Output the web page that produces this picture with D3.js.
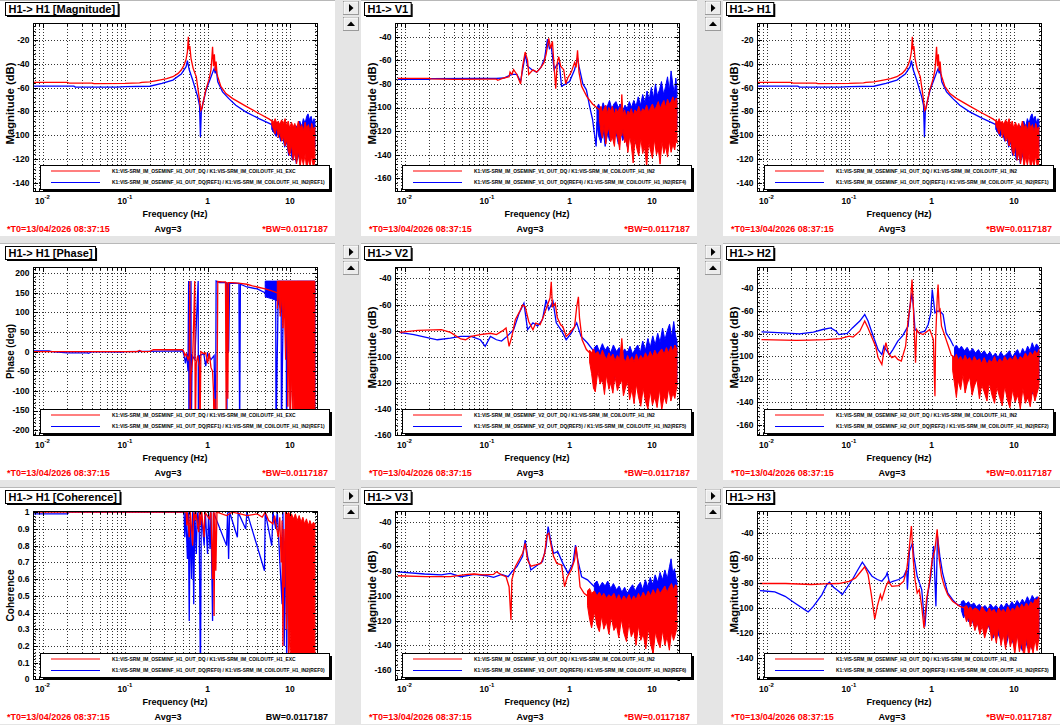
<!DOCTYPE html>
<html><head><meta charset="utf-8">
<script src="https://cdn.jsdelivr.net/npm/d3@7"></script>
<style>
body{margin:0;background:#e5e5e5;}
svg{display:block;font-family:"Liberation Sans",Arial,Helvetica,sans-serif;font-weight:bold;}
</style>
</head><body>
<svg id="c" width="1060" height="725"></svg>
<script>
// ---------------- data (frequency Hz, value) ----------------
const xTickValues = [0.01, 0.1, 1, 10];
const xTickLabels = [["10","-2"],["10","-1"],["1",""],["10",""]];
const xDomain = [0.00767, 21.8];

const magTicksH1 = [-140,-120,-100,-80,-60,-40,-20];
const magTicksV = [-160,-140,-120,-100,-80,-60,-40];
const magTicksH3 = [-140,-120,-100,-80,-60,-40];
const phaseTicks = [-200,-150,-100,-50,0,50,100,150,200];
const cohTicks = [0,0.1,0.2,0.3,0.4,0.5,0.6,0.7,0.8,0.9,1];

const titles = ["H1-> H1 [Magnitude]","H1-> V1","H1-> H1","H1-> H1 [Phase]","H1-> V2","H1-> H2","H1-> H1 [Coherence]","H1-> V3","H1-> H3"];
const yTitles = ["Magnitude (dB)","Magnitude (dB)","Magnitude (dB)","Phase (deg)","Magnitude (dB)","Magnitude (dB)","Coherence","Magnitude (dB)","Magnitude (dB)"];
const yDomains = [[-147.6,-5.7],[-171.6,-28.4],[-147.6,-5.7],[-215,216],[-160.8,-31.2],[-169.6,-21.7],[-0.003,1.007],[-168.1,-31.3],[-157.4,-22.7]];
const legendRed = [
 "K1:VIS-SRM_IM_OSEMINF_H1_OUT_DQ / K1:VIS-SRM_IM_COILOUTF_H1_EXC",
 "K1:VIS-SRM_IM_OSEMINF_V1_OUT_DQ / K1:VIS-SRM_IM_COILOUTF_H1_IN2",
 "K1:VIS-SRM_IM_OSEMINF_H1_OUT_DQ / K1:VIS-SRM_IM_COILOUTF_H1_IN2",
 "K1:VIS-SRM_IM_OSEMINF_H1_OUT_DQ / K1:VIS-SRM_IM_COILOUTF_H1_EXC",
 "K1:VIS-SRM_IM_OSEMINF_V2_OUT_DQ / K1:VIS-SRM_IM_COILOUTF_H1_IN2",
 "K1:VIS-SRM_IM_OSEMINF_H2_OUT_DQ / K1:VIS-SRM_IM_COILOUTF_H1_IN2",
 "K1:VIS-SRM_IM_OSEMINF_H1_OUT_DQ / K1:VIS-SRM_IM_COILOUTF_H1_EXC",
 "K1:VIS-SRM_IM_OSEMINF_V3_OUT_DQ / K1:VIS-SRM_IM_COILOUTF_H1_IN2",
 "K1:VIS-SRM_IM_OSEMINF_H3_OUT_DQ / K1:VIS-SRM_IM_COILOUTF_H1_IN2"];
const legendBlue = [
 "K1:VIS-SRM_IM_OSEMINF_H1_OUT_DQ(REF1) / K1:VIS-SRM_IM_COILOUTF_H1_IN2(REF1)",
 "K1:VIS-SRM_IM_OSEMINF_V1_OUT_DQ(REF4) / K1:VIS-SRM_IM_COILOUTF_H1_IN2(REF4)",
 "K1:VIS-SRM_IM_OSEMINF_H1_OUT_DQ(REF1) / K1:VIS-SRM_IM_COILOUTF_H1_IN2(REF1)",
 "K1:VIS-SRM_IM_OSEMINF_H1_OUT_DQ(REF1) / K1:VIS-SRM_IM_COILOUTF_H1_IN2(REF1)",
 "K1:VIS-SRM_IM_OSEMINF_V2_OUT_DQ(REF5) / K1:VIS-SRM_IM_COILOUTF_H1_IN2(REF5)",
 "K1:VIS-SRM_IM_OSEMINF_H2_OUT_DQ(REF2) / K1:VIS-SRM_IM_COILOUTF_H1_IN2(REF2)",
 "K1:VIS-SRM_IM_OSEMINF_H1_OUT_DQ(REF0) / K1:VIS-SRM_IM_COILOUTF_H1_IN2(REF0)",
 "K1:VIS-SRM_IM_OSEMINF_V3_OUT_DQ(REF6) / K1:VIS-SRM_IM_COILOUTF_H1_IN2(REF6)",
 "K1:VIS-SRM_IM_OSEMINF_H3_OUT_DQ(REF3) / K1:VIS-SRM_IM_COILOUTF_H1_IN2(REF3)"];
const footT0 = "*T0=13/04/2026 08:37:15";
const footAvg = "Avg=3";
const footBW = ["*BW=0.0117187","*BW=0.0117187","*BW=0.0117187","*BW=0.0117187","*BW=0.0117187","*BW=0.0117187","BW=0.0117187","*BW=0.0117187","*BW=0.0117187"];

// H1 magnitude
const h1MagRed = [[0.0078,-55.6],[0.02,-55.6],[0.021,-56.2],[0.04,-56.2],[0.042,-56.6],[0.1,-56.4],[0.15,-56],[0.16,-55.5],[0.2,-55.2],[0.26,-53.6],[0.32,-52.5],[0.38,-50.8],[0.44,-48],[0.48,-45.2],[0.52,-41],[0.55,-36],[0.57,-30],[0.585,-17.2],[0.595,-28],[0.61,-25],[0.63,-35.4],[0.67,-44],[0.73,-50.8],[0.79,-67.7],[0.83,-79],[0.86,-77],[0.88,-73],[0.95,-62],[1.0,-57],[1.05,-52],[1.1,-45],[1.13,-34],[1.15,-25.6],[1.18,-42],[1.21,-32],[1.24,-46],[1.27,-38],[1.3,-48],[1.33,-50.8],[1.45,-59],[1.67,-64.9],[2.0,-69],[2.9,-75.5],[4.2,-81.7],[5.6,-86.4],[6.0,-88]];
const h1MagRedBand = [[6.0,-91,-87],[6.3,-95,-89],[6.6,-99,-86],[6.9,-93,-90],[7.2,-102,-88],[7.5,-97,-91],[7.9,-105,-87],[8.3,-101,-90],[8.7,-109,-86],[9.1,-104,-92],[9.5,-113,-88],[9.9,-117,-94],[10.4,-108,-89],[10.9,-121,-93],[11.4,-114,-90],[12.0,-124,-95],[12.6,-112,-88],[13.2,-127,-94],[13.8,-118,-91],[14.5,-125,-96],[15.2,-116,-89],[15.9,-129,-94],[16.7,-120,-91],[17.5,-126,-97],[18.3,-117,-90],[19.2,-128,-95],[20,-121,-93]];
const h1MagBlue = [[0.0078,-58.7],[0.024,-58.7],[0.025,-59.5],[0.08,-59.5],[0.1,-59.2],[0.2,-58.8],[0.28,-56.4],[0.38,-53.6],[0.48,-48.6],[0.55,-42.4],[0.57,-37.4],[0.6,-45],[0.66,-53.6],[0.76,-67.7],[0.8,-75],[0.82,-101.3],[0.84,-80],[0.86,-76],[0.96,-62],[1.1,-51],[1.2,-44],[1.24,-48],[1.27,-44],[1.3,-50],[1.33,-55],[1.52,-63.5],[1.8,-69],[2.2,-74.7],[2.9,-80.3],[4.2,-86],[5.6,-90],[6.0,-91]];
const h1MagBlueBand = [[6.0,-95,-90],[6.4,-98,-92],[6.8,-101,-89],[7.2,-97,-93],[7.7,-105,-90],[8.1,-100,-94],[8.6,-110,-91],[9.1,-106,-95],[9.6,-117,-92],[10.1,-112,-96],[10.7,-121,-93],[11.3,-114,-97],[11.9,-124,-92],[12.5,-116,-95],[13.1,-121,-88],[13.8,-113,-93],[14.5,-119,-86],[15.2,-111,-90],[15.9,-117,-84],[16.5,-108,-82],[17.2,-121,-87],[18,-113,-84],[18.8,-118,-90],[19.5,-111,-86],[20,-110,-88]];

// H1 phase
const h1PhRed = [[0.0078,0],[0.14,0],[0.15,3],[0.16,0],[0.2,1],[0.22,5],[0.5,5],[0.52,-2],[0.53,-11],[0.55,-5],[0.58,-20],[0.6,-10],[0.61,180],[0.615,-214],[0.63,-60],[0.66,-20],[0.7,180],[0.71,-214],[0.73,-30],[0.76,-10],[0.8,-40],[0.81,-214],[0.83,0],[0.9,-5],[0.95,-3],[1.0,-30],[1.05,-3],[1.1,-40],[1.15,-50],[1.18,-100],[1.2,-214],[1.23,-120],[1.26,-214],[1.3,-150],[1.33,179],[1.5,178],[1.65,178],[1.68,-150],[1.72,178],[1.76,-120],[1.8,176],[2.0,176],[2.5,174],[3.0,172],[3.5,168],[4.0,165],[5.0,160],[6.0,155],[7.0,150]];
const h1PhRedBand = [[7,110,180],[7.3,150,180],[7.6,90,180],[7.9,140,180],[8.2,60,180],[8.5,130,180],[8.8,-20,180],[9.1,100,180],[9.4,-140,180],[9.7,20,180],[10,-170,180],[10.4,-60,180],[10.8,-214,180],[11.2,-100,180],[11.6,-214,180],[20,-214,180]];
const h1PhBlue = [[0.0078,2],[0.012,2],[0.013,0],[0.02,-3],[0.035,-3],[0.036,-4],[0.04,0],[0.09,-1],[0.1,0],[0.5,2],[0.52,-10],[0.54,-30],[0.56,-5],[0.58,-50],[0.59,180],[0.595,-214],[0.61,-20],[0.63,180],[0.635,-214],[0.65,-10],[0.7,-20],[0.77,180],[0.775,-214],[0.8,-10],[0.9,-5],[0.95,-37],[1.0,-5],[1.1,-20],[1.2,-10],[1.25,-214],[1.27,180],[1.4,176],[1.7,176],[1.71,-214],[1.75,176],[1.8,0],[1.85,175],[2.4,174],[2.45,-214],[2.5,172],[3,165],[4,160],[5,150],[6,160],[6.7,150],[6.75,-214],[7.2,160],[7.8,150],[7.85,-214],[8.3,140],[9,150],[9.05,-214],[9.5,130],[10,150],[10.05,-150],[10.5,160],[10.8,-50],[11,160]];
const h1PhBlueBand = [[5,140,180],[6,135,180],[7,130,180],[8,100,180],[9,80,180],[10,60,180],[11,-50,180],[12,-214,180],[20,-214,180]];

// H1 coherence
const h1CohRed = [[0.0078,1],[0.55,1],[0.56,0.92],[0.57,1],[0.6,0.85],[0.62,1],[0.66,0.8],[0.68,1],[0.7,0.95],[0.72,1],[0.78,0.88],[0.8,1],[0.82,0.92],[0.85,1],[0.91,0.85],[0.93,1],[1.05,0.96],[1.1,1],[1.15,0.6],[1.18,1],[1.2,0.38],[1.23,1],[1.26,0.65],[1.3,1],[1.7,0.98],[2.0,1],[2.5,0.99],[3,0.98],[4,0.99],[4.6,0.97],[5,1],[5.5,0.95],[6.2,0.93],[6.5,0.98],[7.2,0.85],[7.5,0.97],[7.8,0.7],[8,0.95],[8.2,0.2],[8.4,0.9],[8.5,0.55],[8.8,0.9]];
const h1CohRedBand = [[8.8,0.9,1],[9,0.3,1],[9.3,0.6,0.99],[9.6,0.1,1],[10,0.3,0.98],[10.4,0,0.99],[11,0,0.96],[11.6,0,0.99],[12.2,0,0.95],[12.9,0,0.98],[13.6,0,0.94],[14.3,0,0.97],[15,0,0.93],[15.8,0,0.96],[16.6,0,0.92],[17.4,0,0.95],[18.3,0,0.92],[19.2,0,0.94],[20,0,0.93]];
const h1CohBlue = [[0.0078,0.99],[0.02,0.99],[0.021,1],[0.52,1],[0.53,0.85],[0.545,1],[0.57,0.72],[0.585,1],[0.6,0.35],[0.615,1],[0.64,0.6],[0.66,1],[0.68,0.45],[0.7,1],[0.73,0.75],[0.75,1],[0.77,0.9],[0.79,1],[0.82,0],[0.84,1],[0.91,0.8],[0.94,1],[1.0,0.75],[1.03,1],[1.07,0.78],[1.1,1],[1.15,0.35],[1.18,1],[1.7,0.8],[1.75,1],[1.8,0.72],[1.85,1],[2.3,0.85],[2.35,1],[2.9,0.9],[3,1],[4.9,0.65],[5.0,1],[6,0.8],[6.2,1],[6.7,0.9],[7,1],[8,0.45],[8.2,1],[8.5,0.2],[8.8,1],[9.1,0.1],[9.4,0.9],[10,0.3],[10.3,0.9],[10.6,0.4],[11,0.9],[11.3,0.1],[12,0.9],[14.4,0.8],[15,0.9],[20,0.9]];
const h1CohBlueBand = [];

// V1
const v1Red = [[0.0083,-75.3],[0.02,-75.3],[0.021,-75.8],[0.04,-76.1],[0.1,-76],[0.13,-76],[0.135,-77],[0.16,-75],[0.185,-74],[0.19,-70],[0.2,-72],[0.21,-68],[0.23,-72],[0.255,-80],[0.27,-65],[0.29,-53],[0.31,-60],[0.32,-72],[0.36,-68],[0.4,-70],[0.45,-66],[0.49,-62],[0.52,-55],[0.55,-45],[0.56,-41.5],[0.59,-50],[0.62,-44],[0.65,-65],[0.68,-84],[0.71,-62],[0.74,-57],[0.78,-65],[0.85,-68],[0.9,-80],[0.95,-75],[1.05,-70],[1.15,-62],[1.2,-66],[1.25,-51.5],[1.3,-70],[1.4,-82],[1.62,-90.8],[1.9,-97],[2.3,-102]];
const v1RedBand = [[2.3,-110,-102],[2.4,-121,-99],[2.5,-126,-104],[2.62,-114,-101],[2.75,-131,-98],[2.85,-122,-105],[3.0,-117,-100],[3.15,-129,-103],[3.3,-125,-99],[3.5,-133,-106],[3.65,-119,-101],[3.85,-126,-104],[4.05,-136,-100],[4.2,-121,-103],[4.3,-124,-89],[4.45,-118,-106],[4.65,-130,-102],[4.85,-127,-108],[5.1,-138,-103],[5.35,-124,-105],[5.6,-132,-101],[5.9,-147,-107],[6.2,-127,-102],[6.55,-135,-104],[6.9,-141,-99],[7.3,-126,-105],[7.7,-139,-101],[8.1,-133,-103],[8.6,-150,-98],[9.1,-129,-104],[9.6,-137,-100],[10.1,-143,-97],[10.7,-127,-102],[11.3,-140,-99],[11.9,-135,-95],[12.5,-148,-101],[13.2,-129,-97],[13.9,-139,-94],[14.6,-133,-100],[15.4,-142,-93],[16.2,-128,-97],[17,-138,-95],[17.9,-131,-91],[18.8,-136,-96],[19.6,-127,-92],[20,-130,-94]];
const v1Blue = [[0.0083,-76.1],[0.02,-76.1],[0.021,-75.5],[0.07,-75.3],[0.13,-75.3],[0.16,-75],[0.2,-72],[0.23,-72],[0.255,-78],[0.28,-62],[0.29,-55],[0.31,-65],[0.35,-68],[0.4,-70],[0.45,-66],[0.5,-58],[0.54,-42],[0.57,-50],[0.6,-48],[0.65,-68],[0.7,-64],[0.75,-62],[0.8,-82],[0.9,-80],[1.0,-78],[1.15,-68],[1.25,-58],[1.3,-65],[1.45,-80],[1.6,-85],[1.75,-99],[1.9,-110],[2.0,-122],[2.1,-133],[2.15,-112]];
const v1BlueBand = [[2.15,-115,-100],[2.25,-124,-97],[2.4,-130,-103],[2.55,-119,-96],[2.7,-133,-101],[2.9,-122,-98],[3.05,-128,-94],[3.25,-118,-101],[3.45,-127,-97],[3.65,-121,-95],[3.9,-131,-100],[4.15,-119,-97],[4.4,-128,-103],[4.7,-124,-98],[5.0,-133,-101],[5.3,-120,-95],[5.65,-127,-100],[6.0,-122,-94],[6.4,-131,-99],[6.8,-118,-91],[7.25,-126,-98],[7.7,-121,-89],[8.2,-129,-96],[8.7,-117,-86],[9.2,-125,-94],[9.8,-120,-83],[10.4,-128,-92],[11,-116,-80],[11.6,-124,-90],[12.3,-119,-85],[13,-127,-78],[13.8,-115,-89],[14.6,-123,-82],[15.4,-118,-74],[16.2,-125,-86],[17,-114,-69],[17.8,-121,-80],[18.6,-117,-88],[19.4,-123,-75],[20,-115,-84]];

// V2
const v2Red = [[0.0087,-81.3],[0.0145,-79.8],[0.028,-79.3],[0.036,-81.3],[0.048,-86.4],[0.055,-87],[0.064,-84.4],[0.083,-83],[0.11,-82],[0.13,-83],[0.155,-80],[0.17,-78],[0.185,-92],[0.2,-84.4],[0.22,-71.7],[0.25,-65],[0.27,-60.3],[0.29,-61.6],[0.32,-73],[0.36,-79.3],[0.39,-74.2],[0.44,-75.5],[0.49,-68],[0.54,-60.3],[0.58,-55],[0.6,-42.5],[0.62,-61.6],[0.67,-59],[0.71,-70],[0.78,-75.5],[0.83,-77],[0.91,-84.4],[1.0,-82],[1.15,-77],[1.22,-62],[1.28,-54],[1.32,-70],[1.42,-87],[1.6,-94.5],[1.75,-97]];
const v2RedBand = [[1.75,-104,-95],[1.85,-113,-97],[1.95,-124,-94],[2.05,-127,-98],[2.2,-111,-96],[2.35,-121,-100],[2.5,-117,-95],[2.65,-129,-99],[2.8,-114,-102],[3.0,-125,-97],[3.15,-120,-101],[3.35,-128,-98],[3.55,-115,-103],[3.8,-126,-99],[4.05,-121,-102],[4.3,-118,-86],[4.5,-130,-101],[4.75,-124,-104],[5.05,-119,-99],[5.35,-133,-103],[5.7,-125,-100],[6.05,-136,-104],[6.45,-121,-98],[6.85,-131,-103],[7.3,-138,-99],[7.8,-124,-102],[8.3,-134,-97],[8.9,-140,-101],[9.5,-126,-96],[10.1,-137,-100],[10.8,-131,-95],[11.5,-139,-99],[12.3,-125,-96],[13.1,-141,-94],[14,-130,-98],[14.9,-136,-93],[15.9,-124,-97],[16.9,-134,-92],[17.9,-128,-96],[18.9,-132,-91],[20,-122,-94]];
const v2Blue = [[0.0087,-81.3],[0.013,-83],[0.025,-87],[0.036,-85.7],[0.048,-84.4],[0.064,-84.4],[0.083,-87],[0.095,-92],[0.11,-84.4],[0.13,-87],[0.15,-88],[0.175,-84.4],[0.21,-79.3],[0.245,-66.6],[0.28,-59],[0.31,-79.3],[0.36,-74],[0.41,-76.5],[0.47,-71.5],[0.52,-56.5],[0.56,-64],[0.63,-57.5],[0.69,-74],[0.8,-80],[0.91,-87],[1.05,-82],[1.22,-74],[1.38,-84.4],[1.65,-89.5],[1.9,-94.5],[2.0,-96]];
const v2BlueBand = [[2,-108,-93],[2.15,-114,-91],[2.3,-107,-96],[2.5,-119,-90],[2.7,-111,-95],[2.9,-116,-92],[3.15,-109,-97],[3.4,-120,-91],[3.7,-112,-96],[4.0,-118,-93],[4.3,-111,-98],[4.65,-122,-94],[5.0,-114,-97],[5.4,-119,-92],[5.8,-124,-98],[6.25,-113,-94],[6.7,-121,-91],[7.2,-126,-97],[7.7,-116,-88],[8.3,-123,-95],[8.9,-118,-86],[9.5,-128,-93],[10.2,-117,-84],[10.9,-124,-91],[11.7,-130,-82],[12.5,-119,-89],[13.4,-126,-78],[14.3,-120,-87],[15.3,-128,-80],[16.3,-117,-75],[17.3,-124,-85],[18.3,-119,-73],[19.2,-126,-83],[20,-119,-88]];

// V3
const v3Red = [[0.0083,-83.7],[0.018,-84.5],[0.036,-84.5],[0.058,-82.6],[0.07,-82.3],[0.09,-83],[0.12,-82.6],[0.13,-80.5],[0.15,-83],[0.17,-84.5],[0.185,-92.6],[0.195,-119.6],[0.2,-87],[0.22,-76.4],[0.27,-65.6],[0.29,-57.5],[0.31,-71],[0.34,-76],[0.39,-75],[0.45,-73.7],[0.5,-65.6],[0.53,-50.8],[0.56,-49.4],[0.6,-60],[0.64,-68],[0.7,-73.7],[0.8,-75],[0.87,-92.6],[0.94,-84.5],[1.05,-79],[1.15,-71],[1.2,-60],[1.26,-73],[1.34,-92.6],[1.5,-98],[1.65,-100]];
const v3RedBand = [[1.65,-108,-96],[1.75,-119,-94],[1.85,-126,-98],[2.0,-113,-96],[2.15,-124,-100],[2.3,-129,-97],[2.45,-116,-101],[2.6,-127,-98],[2.8,-121,-102],[3.0,-131,-99],[3.2,-117,-101],[3.45,-128,-98],[3.7,-124,-103],[3.95,-134,-99],[4.25,-119,-104],[4.55,-130,-100],[4.9,-137,-103],[5.25,-122,-99],[5.6,-133,-104],[6.0,-128,-100],[6.4,-140,-103],[6.85,-124,-98],[7.3,-136,-102],[7.8,-131,-97],[8.4,-143,-101],[9.0,-126,-96],[9.6,-139,-100],[10.3,-147,-95],[11,-129,-99],[11.7,-137,-94],[12.5,-142,-98],[13.4,-128,-95],[14.3,-140,-92],[15.2,-133,-97],[16.2,-144,-93],[17.2,-129,-90],[18.2,-136,-95],[19.2,-131,-91],[20,-126,-92]];
const v3Blue = [[0.0083,-80.5],[0.0175,-82.3],[0.028,-83],[0.036,-81.8],[0.048,-84.5],[0.07,-82.6],[0.1,-83.7],[0.12,-85],[0.15,-82.6],[0.18,-84.5],[0.2,-80.5],[0.23,-76.4],[0.27,-68],[0.29,-54.8],[0.31,-68],[0.34,-79],[0.41,-75],[0.47,-72.3],[0.52,-60],[0.55,-44],[0.59,-54.8],[0.64,-65.6],[0.72,-64.2],[0.83,-73.7],[0.96,-81.8],[1.1,-73.7],[1.18,-58.9],[1.26,-71],[1.4,-84.5],[1.65,-87],[2.0,-92.6]];
const v3BlueBand = [[2,-104,-90],[2.15,-109,-88],[2.3,-103,-93],[2.5,-112,-89],[2.7,-106,-92],[2.9,-110,-88],[3.15,-105,-94],[3.4,-114,-90],[3.7,-108,-95],[4.0,-112,-92],[4.3,-107,-97],[4.65,-117,-93],[5.0,-110,-98],[5.4,-115,-94],[5.8,-120,-91],[6.25,-109,-96],[6.7,-117,-92],[7.2,-112,-89],[7.7,-121,-95],[8.3,-111,-87],[8.9,-118,-93],[9.5,-114,-85],[10.2,-122,-91],[10.9,-110,-83],[11.7,-119,-89],[12.5,-115,-81],[13.4,-123,-87],[14.3,-112,-79],[15.3,-120,-86],[16.3,-116,-76],[17.0,-121,-70],[17.8,-113,-82],[18.7,-119,-78],[19.5,-114,-86],[20,-115,-88]];

// H2
const h2Red = [[0.0087,-85.2],[0.023,-86],[0.033,-85.7],[0.053,-85.2],[0.078,-84.3],[0.1,-82.2],[0.112,-83],[0.135,-77.9],[0.155,-69],[0.17,-75],[0.19,-83.7],[0.21,-91],[0.225,-101],[0.25,-107],[0.26,-99],[0.28,-88],[0.3,-97],[0.33,-101],[0.36,-99.7],[0.39,-102.6],[0.43,-104],[0.45,-99],[0.485,-91],[0.52,-67.7],[0.55,-56],[0.58,-32.7],[0.6,-53],[0.62,-82],[0.64,-105.5],[0.66,-76.4],[0.7,-79.3],[0.79,-80.8],[0.95,-76.4],[1.05,-85],[1.1,-134.7],[1.12,-85],[1.17,-50],[1.2,-37],[1.24,-60],[1.27,-58.8],[1.32,-73.5],[1.45,-82],[1.6,-91],[1.75,-99.7]];
const h2RedBand = [[1.8,-112,-99],[1.9,-124,-101],[2.0,-136,-98],[2.1,-121,-103],[2.25,-129,-100],[2.4,-116,-104],[2.55,-132,-99],[2.7,-124,-103],[2.9,-118,-101],[3.1,-134,-105],[3.3,-126,-100],[3.55,-120,-104],[3.8,-137,-102],[4.05,-125,-106],[4.35,-131,-101],[4.7,-139,-107],[5.0,-123,-103],[5.4,-134,-105],[5.8,-141,-100],[6.2,-127,-106],[6.7,-136,-102],[7.2,-143,-105],[7.7,-126,-100],[8.3,-138,-104],[8.9,-145,-101],[9.6,-129,-103],[10.3,-140,-99],[11.1,-134,-104],[11.9,-146,-100],[12.8,-128,-102],[13.7,-141,-97],[14.7,-136,-101],[15.7,-144,-96],[16.8,-129,-99],[17.9,-139,-95],[19,-132,-98],[20,-126,-94]];
const h2Blue = [[0.0087,-78.4],[0.016,-79.3],[0.025,-80.2],[0.037,-78.7],[0.048,-76.4],[0.06,-75],[0.07,-77.9],[0.075,-80.8],[0.095,-79.8],[0.11,-75],[0.135,-69],[0.155,-63.3],[0.17,-69],[0.19,-79.3],[0.21,-88],[0.225,-94],[0.25,-98.3],[0.265,-91],[0.28,-94],[0.31,-98.3],[0.34,-94],[0.39,-86.6],[0.445,-82],[0.52,-73.5],[0.54,-59],[0.58,-44.4],[0.6,-55],[0.63,-76.4],[0.7,-79.3],[0.83,-77.9],[0.91,-72],[0.98,-61.8],[1.02,-41.5],[1.1,-61.8],[1.18,-60.4],[1.27,-60.4],[1.38,-63.3],[1.5,-79.3],[1.68,-85],[1.85,-91]];
const h2BlueBand = [[1.9,-102,-92],[2.0,-107,-90],[2.15,-101,-94],[2.3,-109,-91],[2.5,-104,-95],[2.7,-111,-92],[2.9,-105,-96],[3.15,-114,-93],[3.4,-108,-97],[3.7,-112,-94],[4.0,-118,-98],[4.35,-107,-95],[4.7,-116,-99],[5.1,-112,-96],[5.5,-120,-100],[5.95,-110,-97],[6.4,-123,-101],[6.9,-115,-96],[7.5,-126,-100],[8.1,-117,-98],[8.8,-129,-95],[9.5,-119,-101],[10.2,-132,-97],[11,-121,-94],[11.8,-135,-99],[12.7,-124,-93],[13.6,-131,-97],[14.6,-137,-91],[15.6,-123,-95],[16.6,-133,-88],[17.6,-127,-93],[18.7,-131,-89],[20,-120,-92]];

// H3
const h3Red = [[0.0083,-80.5],[0.017,-80.5],[0.035,-81.3],[0.05,-80.8],[0.075,-80.5],[0.1,-78.7],[0.12,-76],[0.14,-70.7],[0.155,-67.2],[0.17,-73.3],[0.185,-88],[0.2,-104],[0.205,-108.8],[0.22,-98.7],[0.24,-89.3],[0.25,-93.3],[0.28,-82.7],[0.3,-78.7],[0.33,-82.7],[0.4,-82.1],[0.46,-78.7],[0.5,-69.3],[0.53,-56],[0.57,-34.7],[0.6,-61.3],[0.63,-77.3],[0.67,-88],[0.71,-85.3],[0.76,-98.7],[0.81,-116],[0.87,-93.3],[0.94,-80],[1.02,-61.3],[1.1,-53.3],[1.17,-37.3],[1.24,-61.3],[1.32,-74.7],[1.43,-82.7],[1.57,-89.3],[1.8,-94.7],[2.2,-98.7],[2.5,-100]];
const h3RedBand = [[2.5,-104,-99],[2.65,-111,-98],[2.8,-107,-101],[2.95,-115,-99],[3.15,-109,-102],[3.35,-118,-100],[3.6,-112,-101],[3.85,-121,-103],[4.1,-114,-99],[4.4,-124,-102],[4.7,-117,-104],[5.0,-112,-100],[5.35,-126,-103],[5.7,-119,-101],[6.1,-128,-105],[6.5,-115,-100],[6.95,-130,-103],[7.4,-121,-101],[7.9,-133,-104],[8.4,-118,-99],[9.0,-131,-103],[9.6,-124,-100],[10.2,-137,-102],[10.9,-121,-98],[11.6,-135,-101],[12.4,-127,-97],[13.2,-140,-100],[14.1,-123,-96],[15,-138,-99],[16,-129,-95],[17,-136,-97],[18,-125,-93],[19,-134,-94],[20,-124,-91]];
const h3Blue = [[0.0083,-86.1],[0.0126,-87.2],[0.0168,-90.7],[0.022,-96],[0.029,-101.3],[0.032,-103.2],[0.037,-98.7],[0.047,-89.3],[0.054,-81.3],[0.058,-79.5],[0.065,-83.5],[0.075,-86.7],[0.083,-89.3],[0.095,-83.5],[0.11,-77.3],[0.125,-70.7],[0.145,-63.5],[0.166,-69.3],[0.19,-74.7],[0.22,-77.3],[0.25,-78.7],[0.28,-74.7],[0.29,-72],[0.31,-80],[0.34,-78.7],[0.4,-77.3],[0.46,-74.7],[0.5,-69.3],[0.51,-85.3],[0.54,-54.7],[0.59,-48],[0.61,-58.7],[0.67,-74.7],[0.76,-85.3],[0.83,-114.7],[0.89,-90.7],[0.98,-74.7],[1.06,-50.7],[1.13,-98.7],[1.18,-42.7],[1.26,-58.7],[1.36,-72],[1.57,-88],[1.8,-93.3],[2.1,-98],[2.3,-97]];
const h3BlueBand = [[2.3,-102,-95],[2.45,-108,-94],[2.6,-103,-97],[2.8,-111,-95],[3.0,-106,-98],[3.25,-114,-96],[3.5,-109,-99],[3.8,-118,-97],[4.1,-111,-100],[4.45,-121,-98],[4.8,-113,-101],[5.2,-119,-97],[5.6,-124,-100],[6.05,-114,-98],[6.5,-122,-101],[7.0,-126,-97],[7.5,-117,-100],[8.1,-129,-96],[8.7,-119,-99],[9.4,-125,-95],[10.1,-131,-98],[10.9,-120,-94],[11.7,-129,-97],[12.6,-134,-93],[13.5,-122,-96],[14.5,-132,-91],[15.5,-126,-95],[16.6,-133,-90],[17.7,-122,-93],[18.9,-129,-91],[20,-124,-92]];

// ---------------- layout ----------------
const RED = "#ff0000", BLUE = "#0000ff";
const colX = [0, 362, 724], rowY = [0, 244, 488];
const seriesRed = [h1MagRed, v1Red, h1MagRed, h1PhRed, v2Red, h2Red, h1CohRed, v3Red, h3Red];
const bandsRed = [h1MagRedBand, v1RedBand, h1MagRedBand, h1PhRedBand, v2RedBand, h2RedBand, h1CohRedBand, v3RedBand, h3RedBand];
const seriesBlue = [h1MagBlue, v1Blue, h1MagBlue, h1PhBlue, v2Blue, h2Blue, h1CohBlue, v3Blue, h3Blue];
const bandsBlue = [h1MagBlueBand, v1BlueBand, h1MagBlueBand, h1PhBlueBand, v2BlueBand, h2BlueBand, h1CohBlueBand, v3BlueBand, h3BlueBand];
const yTickSets = [magTicksH1, magTicksV, magTicksH1, phaseTicks, magTicksV, magTicksV, cohTicks, magTicksV, magTicksH3];

const svg = d3.select("#c");
svg.append("rect").attr("width",1060).attr("height",725).attr("fill","#e5e5e5");

for (let i = 0; i < 9; i++) {
  const r = Math.floor(i/3), c = i % 3;
  const ox = colX[c], oy = rowY[r];
  const g = svg.append("g");
  const wx0 = c === 0 ? 0 : ox - 1, wx1 = c === 2 ? 1060 : ox + 335;
  g.append("rect").attr("x", wx0).attr("y", oy - (r?1:0)).attr("width", wx1 - wx0).attr("height", 236 + (r?1:0))
    .attr("fill", "#ffffff");
  g.append("line").attr("x1", wx0).attr("x2", wx1).attr("y1", oy - (r?1:0) + 0.5).attr("y2", oy - (r?1:0) + 0.5)
    .attr("stroke", "#b8b8b8");
  if (c > 0) {
    [[1,14],[17,30]].forEach((b, k) => {
      const bx = ox - 19, by = oy + b[0], bw = 15, bh = b[1] - b[0];
      g.append("rect").attr("x", bx+0.5).attr("y", by+0.5).attr("width", bw).attr("height", bh)
        .attr("fill", "#ececec").attr("stroke", "#9a9a9a");
      g.append("path").attr("d", `M${bx+1},${by+bh} L${bx+1},${by+1} L${bx+bw},${by+1}`).attr("stroke","#ffffff").attr("fill","none");
      const cx = bx + bw/2 + 0.5, cy = by + bh/2 + 0.5;
      g.append("path").attr("d", k === 0
        ? `M${cx-2},${cy-4} L${cx+2.5},${cy} L${cx-2},${cy+4} Z`
        : `M${cx-4},${cy+2} L${cx},${cy-2.5} L${cx+4},${cy+2} Z`).attr("fill", "#000");
    });
  }

  const fx0 = ox + 33, fx1 = ox + 318, fy0 = oy + 23, fy1 = oy + 192;
  const x = d3.scaleLog().domain(xDomain).range([fx0, fx1]);
  const y = d3.scaleLinear().domain(yDomains[i]).range([fy1, fy0]);
  const yt = yTickSets[i];

  const minorX = [];
  for (let d = -3; d <= 1; d++) for (let k = 1; k <= 9; k++) {
    const f = k * Math.pow(10, d);
    if (f > xDomain[0] && f < xDomain[1]) minorX.push(f);
  }
  const grid = g.append("g").attr("stroke", "#000").attr("stroke-width", 0.8).attr("stroke-dasharray", "1,2");
  minorX.forEach(f => grid.append("line").attr("x1", Math.round(x(f))+0.5).attr("x2", Math.round(x(f))+0.5).attr("y1", fy0).attr("y2", fy1));
  yt.forEach(v => { const yy = Math.round(y(v))+0.5; if (yy > fy0+1 && yy < fy1-1) grid.append("line").attr("x1", fx0).attr("x2", fx1).attr("y1", yy).attr("y2", yy); });

  const clipId = "clip" + i;
  svg.append("clipPath").attr("id", clipId).append("rect").attr("x", fx0).attr("y", fy0).attr("width", fx1-fx0).attr("height", fy1-fy0);
  const dg = g.append("g").attr("clip-path", `url(#${clipId})`);
  const line = d3.line().x(d => x(d[0])).y(d => y(d[1]));
  const area = d3.area().x(d => x(d[0])).y0(d => y(d[1])).y1(d => y(d[2]));
  const draw = (s, b, col) => {
    dg.append("path").attr("d", line(s)).attr("fill", "none").attr("stroke", col).attr("stroke-width", 1.3);
    if (b.length) dg.append("path").attr("d", area(b)).attr("fill", col).attr("stroke", col).attr("stroke-width", 1);
  };
  draw(seriesBlue[i], bandsBlue[i], BLUE);
  draw(seriesRed[i], bandsRed[i], RED);

  g.append("rect").attr("x", fx0+0.5).attr("y", fy0+0.5).attr("width", fx1-fx0-1).attr("height", fy1-fy0-1)
    .attr("fill", "none").attr("stroke", "#000");
  const tk = g.append("g").attr("stroke", "#000").attr("stroke-width", 1);
  minorX.forEach(f => {
    const xx = Math.round(x(f))+0.5, L = xTickValues.includes(f) ? 5 : 3;
    tk.append("line").attr("x1", xx).attr("x2", xx).attr("y1", fy1).attr("y2", fy1 - L);
    tk.append("line").attr("x1", xx).attr("x2", xx).attr("y1", fy0).attr("y2", fy0 + L);
  });
  const step = yt[1] - yt[0], sub = 5;
  for (let v = yt[0] - step; v <= yt[yt.length-1] + step + 1e-9; v += step/sub) {
    const yy = y(v);
    if (yy < fy0 || yy > fy1) continue;
    const isMaj = yt.some(t => Math.abs(t - v) < 1e-6);
    const L = isMaj ? 5 : 2.5, yr = Math.round(yy)+0.5;
    tk.append("line").attr("x1", fx0).attr("x2", fx0 + L).attr("y1", yr).attr("y2", yr);
    tk.append("line").attr("x1", fx1).attr("x2", fx1 - L).attr("y1", yr).attr("y2", yr);
  }
  yt.forEach(v => {
    g.append("text").attr("x", fx0 - 3.5).attr("y", y(v)).attr("dy", "0.35em").attr("text-anchor", "end")
      .attr("font-size", 8.5).text(i === 6 ? d3.format("~g")(v) : String(v));
  });
  xTickValues.forEach((v, k) => {
    const t = g.append("text").attr("x", x(v)).attr("y", fy1 + 12).attr("text-anchor", "middle").attr("font-size", 8.5);
    t.append("tspan").text(xTickLabels[k][0]);
    if (xTickLabels[k][1]) t.append("tspan").attr("dy", -5).attr("font-size", 6).text(xTickLabels[k][1]);
  });
  g.append("text").attr("x", ox + 175).attr("y", oy + 217).attr("text-anchor", "middle").attr("font-size", 9).text("Frequency (Hz)");
  const ytl = {"Magnitude (dB)": 82, "Phase (deg)": 55, "Coherence": 52}[yTitles[i]];
  g.append("text").attr("transform", `translate(${ox + 13.5},${(fy0+fy1)/2 - (yTitles[i][0]==="M"?4:0)}) rotate(-90)`)
    .attr("text-anchor", "middle").attr("font-size", 10).attr("textLength", ytl).attr("lengthAdjust", "spacingAndGlyphs").text(yTitles[i]);

  const lx0 = ox + 40, lx1 = ox + 329, ly0 = oy + 165, ly1 = oy + 189;
  g.append("rect").attr("x", lx0 + 3).attr("y", ly0 + 3).attr("width", lx1 - lx0).attr("height", ly1 - ly0).attr("fill", "#000");
  g.append("rect").attr("x", lx0 + 0.5).attr("y", ly0 + 0.5).attr("width", lx1 - lx0).attr("height", ly1 - ly0).attr("fill", "#fff").attr("stroke", "#000");
  const lclip = "lclip" + i;
  svg.append("clipPath").attr("id", lclip).append("rect").attr("x", lx0).attr("y", ly0).attr("width", lx1 - lx0).attr("height", ly1 - ly0);
  [[legendRed[i], RED, 6], [legendBlue[i], BLUE, 17.5]].forEach(([txt, col, dy]) => {
    g.append("line").attr("x1", lx0 + 11).attr("x2", lx0 + 60).attr("y1", ly0 + dy).attr("y2", ly0 + dy).attr("stroke", col).attr("stroke-width", 1.2);
    g.append("text").attr("clip-path", `url(#${lclip})`).attr("x", lx0 + 72).attr("y", ly0 + dy).attr("dy", "0.35em").attr("font-size", 4.9).text(txt);
  });

  const tx = c === 0 ? 5 : ox + 2, ty = oy + 2;
  const tt = g.append("text").attr("x", tx + 3.5).attr("y", ty + 10.5).attr("font-size", 11).text(titles[i]);
  const tw = tt.node().getComputedTextLength() + 6;
  g.insert("rect", "text:last-child").attr("x", tx + 2).attr("y", ty + 2).attr("width", tw).attr("height", 13).attr("fill", "#000");
  g.insert("rect", "text:last-child").attr("x", tx + 0.5).attr("y", ty + 0.5).attr("width", tw).attr("height", 13).attr("fill", "#fff").attr("stroke", "#000");
  tt.raise();

  g.append("text").attr("x", ox + 7).attr("y", oy + 232).attr("font-size", 9).attr("fill", RED).text(footT0);
  g.append("text").attr("x", ox + 168).attr("y", oy + 232).attr("text-anchor", "middle").attr("font-size", 9).attr("fill", "#000").text(footAvg);
  g.append("text").attr("x", ox + 328).attr("y", oy + 232).attr("text-anchor", "end").attr("font-size", 9)
    .attr("fill", footBW[i][0] === "*" ? RED : "#000").text(footBW[i]);
}
</script>
</body></html>
